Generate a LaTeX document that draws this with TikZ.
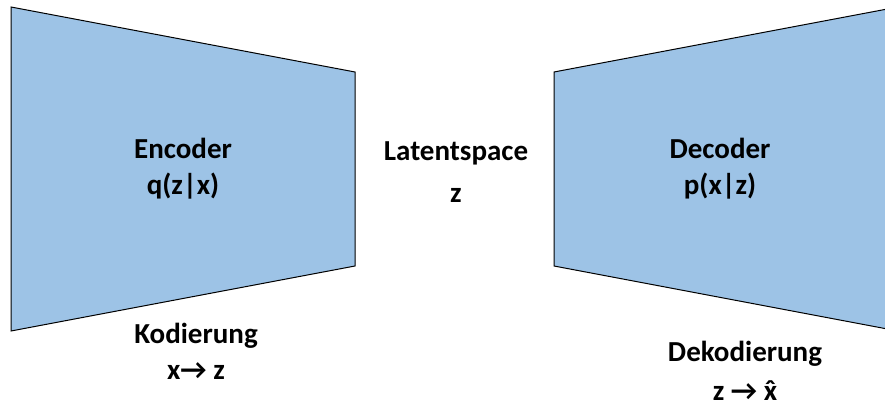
\documentclass[tikz,border=0pt]{standalone}
\usepackage{fontspec}
\setmainfont{Carlito}
\usepackage{tikz}
\definecolor{netblue}{HTML}{9DC3E6}
\newcommand{\xhat}{\accent"02C6 x}

\begin{document}
\begin{tikzpicture}[x=1pt,y=-1pt,
  net/.style={draw=black,line width=1pt,fill=netblue,line join=miter},
  lbl/.style={font=\fontsize{29}{36}\selectfont\bfseries,align=center,
    anchor=base,inner sep=0pt}
]
\useasboundingbox (0,0) rectangle (885,403);
% encoder and decoder blocks
\draw[net] (11,7) -- (355,72) -- (355,266) -- (11,331) -- cycle;
\draw[net] (898,7) -- (554,72) -- (554,266) -- (898,331) -- cycle;
% labels, anchored at the baseline of the last line
\node[lbl] (enc) at (183,195) {Encoder\\q(z|x)};
\node[lbl] (lat) at (456,203) {Latentspace\\[6pt]z};
\node[lbl] (dec) at (720,195) {Decoder\\p(x|z)};
\node[lbl] (kod) at (196,379) {Kodierung\\x→ z};
\node[lbl] (dek) at (745,400) {Dekodierung\\[3pt]z → \xhat};
\end{tikzpicture}
\end{document}
